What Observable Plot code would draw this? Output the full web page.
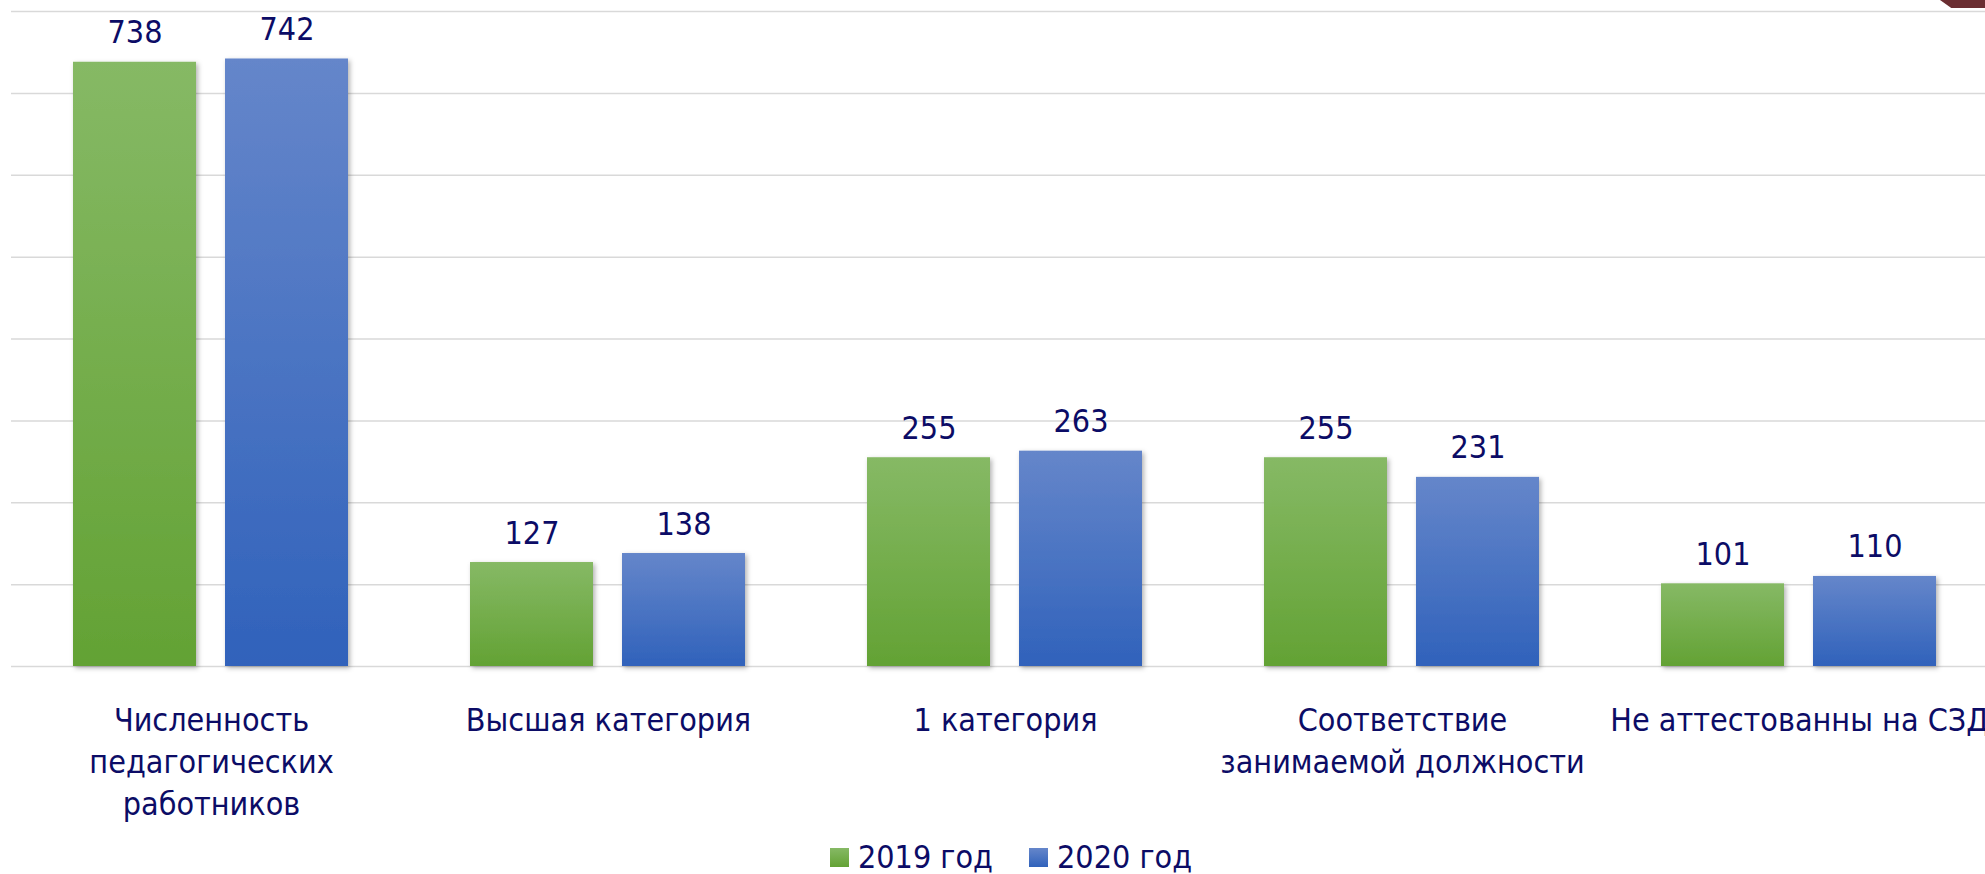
<!DOCTYPE html>
<html>
<head>
<meta charset="utf-8">
<script src="https://cdn.jsdelivr.net/npm/d3@7"></script>
<script src="https://cdn.jsdelivr.net/npm/@observablehq/plot@0.6"></script>
<style>
  html, body { margin: 0; padding: 0; background: #ffffff; overflow: hidden; }
  #chart { position: relative; width: 1985px; height: 830px; }
  #chart svg { display: block; max-width: none; position: absolute; left: 0; top: 0; }
  #corner { position: absolute; left: 1940px; top: 0; width: 45px; height: 8px; background: #6b2e32;
            clip-path: polygon(0 0, 100% 0, 100% 100%, 25% 100%); z-index: 5; }
  .ff { font-family: "DejaVu Sans Condensed", "DejaVu Sans", sans-serif; font-stretch: condensed; }
  #legend { height: 44px; display: flex; justify-content: center; align-items: center; padding-left: 37px; box-sizing: border-box; font-size: 32px; color: #0c0c66; line-height: 32px; padding-top: 10px; }
  .item { display: flex; align-items: center; margin: 0 18px; }
  .sw { width: 19px; height: 19px; margin-right: 9px; }
</style>
</head>
<body>
<div id="chart"><div id="corner"></div></div>
<div id="legend" class="ff"></div>
<script>
const categories = [
  "Численность\nпедагогических\nработников",
  "Высшая категория",
  "1 категория",
  "Соответствие\nзанимаемой должности",
  "Не аттестованны на СЗД"
];
const years = ["2019 год", "2020 год"];
const values2019 = [738, 127, 255, 255, 101];
const values2020 = [742, 138, 263, 231, 110];
const yTicks = [0, 100, 200, 300, 400, 500, 600, 700, 800];
const textColor = "#0c0c66";

const data = categories.flatMap((c, i) => [
  {category: c, year: years[0], value: values2019[i]},
  {category: c, year: years[1], value: values2020[i]}
]);

const fontFamily = '"DejaVu Sans Condensed", "DejaVu Sans", sans-serif';
const dims = {width: 1985, height: 830, marginLeft: 11, marginRight: -14, marginTop: 11, marginBottom: 164};

// gridlines (no facets) sharing the same y scale
const grid = Plot.plot({
  ...dims,
  style: {background: "transparent"},
  y: {domain: [0, 800], axis: null},
  marks: [
    Plot.ruleY(yTicks, {stroke: "#d9d9d9", strokeWidth: 1.5})
  ]
});

const plot = Plot.plot({
  ...dims,
  style: {fontFamily, fontStretch: "condensed", background: "transparent"},
  fx: {domain: categories, paddingInner: 0.306, paddingOuter: 0.153, axis: null, label: null},
  x: {domain: years, paddingInner: 0.19, paddingOuter: 0, axis: null},
  y: {domain: [0, 800], axis: null},
  color: {domain: years, range: ["url(#grad2019)", "url(#grad2020)"]},
  marks: [
    Plot.barY(data, {fx: "category", x: "year", y: "value", fill: "year"}),
    Plot.text(data, {fx: "category", x: "year", y: "value", text: d => String(d.value),
      dy: -19, lineAnchor: "bottom", fill: textColor, fontSize: 32}),
    Plot.text(categories, {fx: d => d, frameAnchor: "bottom", dy: 35, lineAnchor: "top",
      text: d => d, lineHeight: 1.31, fill: textColor, fontSize: 32})
  ]
});

const svg = d3.select(plot);
const defs = svg.insert("defs", ":first-child");
const g1 = defs.append("linearGradient").attr("id", "grad2019").attr("x1", 0).attr("y1", 0).attr("x2", 0).attr("y2", 1);
g1.append("stop").attr("offset", "0%").attr("stop-color", "#86b965");
g1.append("stop").attr("offset", "100%").attr("stop-color", "#63a234");
const g2 = defs.append("linearGradient").attr("id", "grad2020").attr("x1", 0).attr("y1", 0).attr("x2", 0).attr("y2", 1);
g2.append("stop").attr("offset", "0%").attr("stop-color", "#6586ca");
g2.append("stop").attr("offset", "100%").attr("stop-color", "#3062bb");
const f = defs.append("filter").attr("id", "shadow").attr("x", "-10%").attr("y", "-10%").attr("width", "130%").attr("height", "130%");
f.append("feDropShadow").attr("dx", 2).attr("dy", 2).attr("stdDeviation", 2.5)
  .attr("flood-color", "#000").attr("flood-opacity", 0.3);
svg.selectAll("g[aria-label='bar'] rect").attr("filter", "url(#shadow)");

const chart = document.getElementById("chart");
chart.insertBefore(grid, chart.firstChild);
chart.insertBefore(plot, document.getElementById("corner"));

const legend = d3.select("#legend");
years.forEach((y, i) => {
  const item = legend.append("div").attr("class", "item");
  item.append("div").attr("class", "sw").style("background",
    i === 0 ? "linear-gradient(#86b965, #63a234)" : "linear-gradient(#6586ca, #3062bb)");
  item.append("span").text(y);
});
</script>
</body>
</html>
